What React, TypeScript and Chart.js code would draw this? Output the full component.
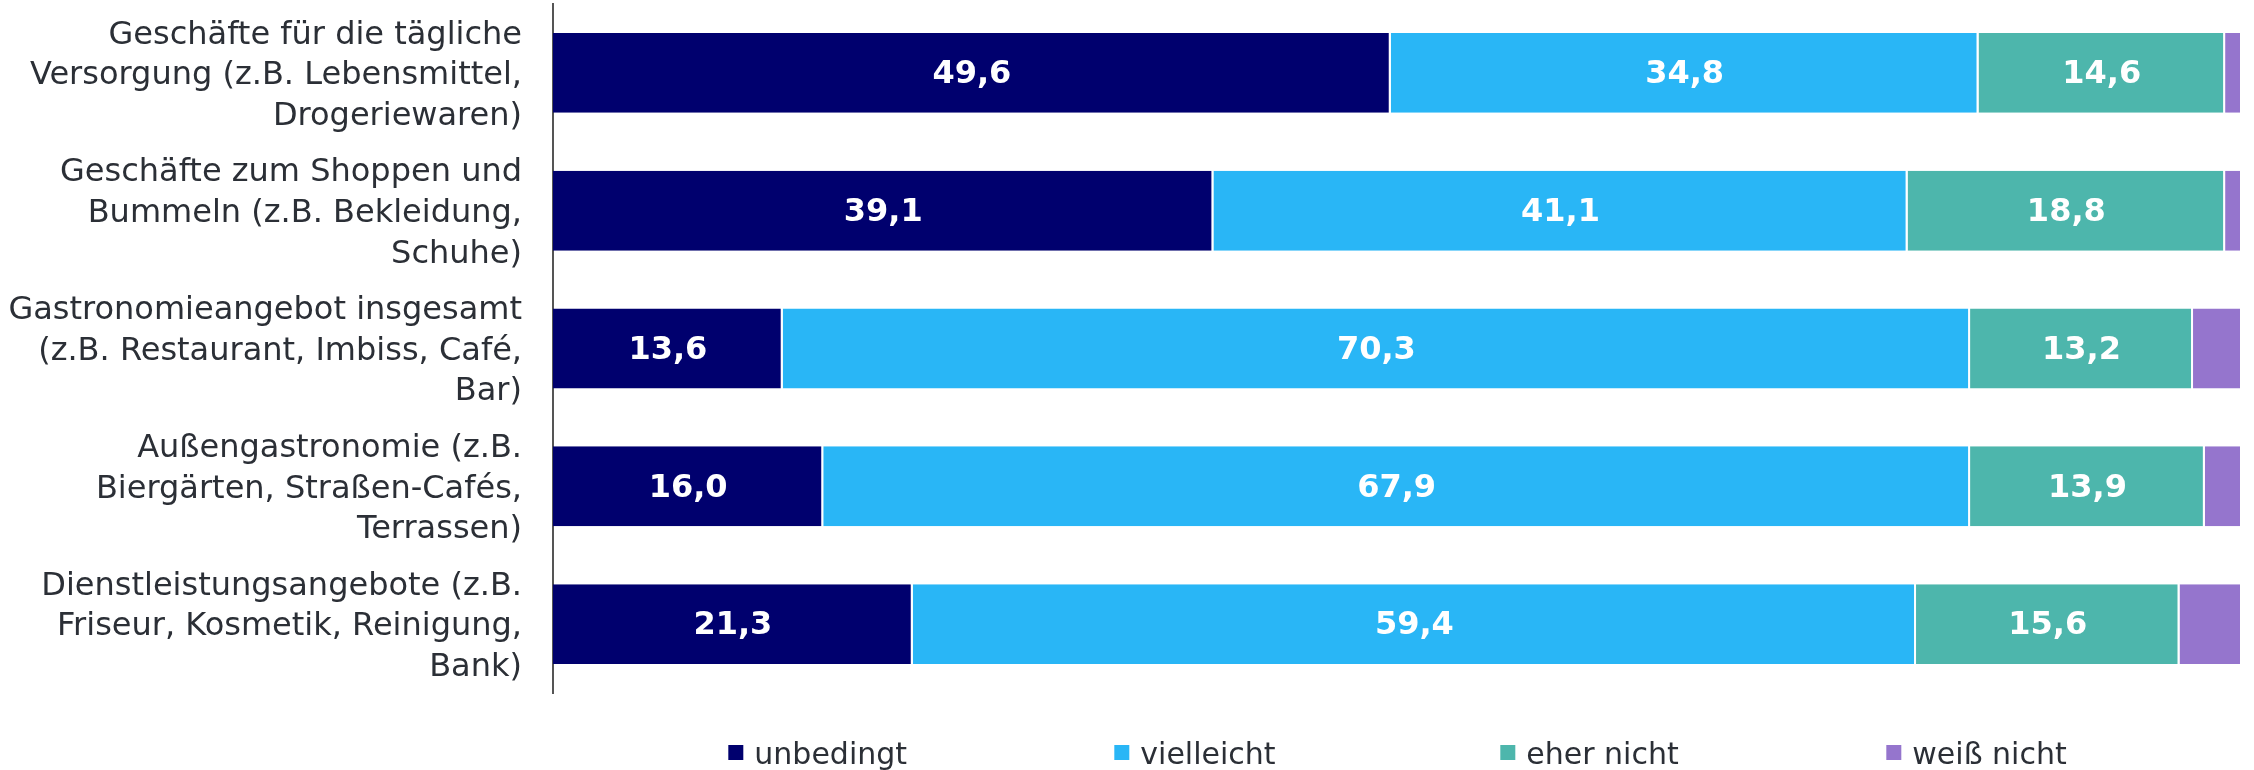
import React, { useEffect, useRef } from "react";
import { Chart, registerables } from "chart.js";

Chart.register(...registerables);

const categories: string[][] = [
  ["Geschäfte für die tägliche", "Versorgung (z.B. Lebensmittel,", "Drogeriewaren)"],
  ["Geschäfte zum Shoppen und", "Bummeln (z.B. Bekleidung,", "Schuhe)"],
  ["Gastronomieangebot insgesamt", "(z.B. Restaurant, Imbiss, Café,", "Bar)"],
  ["Außengastronomie (z.B.", "Biergärten, Straßen-Cafés,", "Terrassen)"],
  ["Dienstleistungsangebote (z.B.", "Friseur, Kosmetik, Reinigung,", "Bank)"],
];

const seriesNames = ["unbedingt", "vielleicht", "eher nicht", "weiß nicht"];
const unbedingt = [49.6, 39.1, 13.6, 16.0, 21.3];
const vielleicht = [34.8, 41.1, 70.3, 67.9, 59.4];
const eherNicht = [14.6, 18.8, 13.2, 13.9, 15.6];
const weissNicht = [1.0, 1.0, 2.9, 2.2, 3.7];
const seriesColors = ["#00006E", "#29B6F6", "#4DB6AC", "#9575CD"];
const labelledSeries = [true, true, true, false];

const FONT = "'DejaVu Sans', Verdana, sans-serif";
const TEXT_COLOR = "#2b2f36";

const valueLabelPlugin = {
  id: "valueLabels",
  afterDatasetsDraw(chart: any) {
    const ctx = chart.ctx;
    ctx.save();
    ctx.font = `bold 32px ${FONT}`;
    ctx.fillStyle = "#ffffff";
    ctx.textAlign = "center";
    ctx.textBaseline = "middle";
    chart.data.datasets.forEach((ds: any, di: number) => {
      if (!labelledSeries[di]) return;
      const meta = chart.getDatasetMeta(di);
      meta.data.forEach((el: any, i: number) => {
        const v = ds.data[i];
        const cx = (el.x + el.base) / 2;
        ctx.fillText(v.toFixed(1).replace(".", ","), cx, el.y + 2);
      });
    });
    ctx.restore();
  },
};

const legendPlugin = {
  id: "customLegend",
  afterDraw(chart: any) {
    const ctx = chart.ctx;
    const area = chart.chartArea;
    const colWidth = 386;
    const box = 15;
    const gap = 11;
    ctx.save();
    ctx.font = `30px ${FONT}`;
    const items = chart.data.datasets.map((ds: any) => ({
      text: ds.label,
      color: ds.backgroundColor,
      w: box + gap + ctx.measureText(ds.label).width,
    }));
    const total = colWidth * (items.length - 1) + items[items.length - 1].w;
    let x = (area.left + area.right) / 2 - total / 2;
    const baseline = 764;
    items.forEach((it: any) => {
      ctx.fillStyle = it.color;
      ctx.fillRect(x, 745, box, box);
      ctx.fillStyle = TEXT_COLOR;
      ctx.textAlign = "left";
      ctx.textBaseline = "alphabetic";
      ctx.fillText(it.text, x + box + gap, baseline);
      x += colWidth;
    });
    ctx.restore();
  },
};

export default function App() {
  const canvasRef = useRef<HTMLCanvasElement | null>(null);

  useEffect(() => {
    if (!canvasRef.current) return;
    const values = [unbedingt, vielleicht, eherNicht, weissNicht];
    const chart = new Chart(canvasRef.current, {
      type: "bar",
      data: {
        labels: categories,
        datasets: values.map((data, i) => ({
          label: seriesNames[i],
          data,
          backgroundColor: seriesColors[i],
          borderColor: "#ffffff",
          borderWidth: { top: 0, bottom: 0, left: 0, right: 2 },
          borderSkipped: false,
          categoryPercentage: 1,
          barPercentage: 0.58,
        })),
      },
      options: {
        indexAxis: "y",
        animation: false,
        responsive: true,
        maintainAspectRatio: false,
        layout: { padding: { top: 4, right: 12, bottom: 77, left: 0 } },
        plugins: {
          legend: { display: false },
          tooltip: { enabled: false },
        },
        scales: {
          x: {
            stacked: true,
            min: 0,
            max: 100,
            display: false,
          },
          y: {
            stacked: true,
            grid: { display: true, color: "transparent", drawTicks: false },
            border: { display: true, color: "#555555", width: 2 },
            ticks: {
              autoSkip: false,
              padding: 31,
              labelOffset: 3,
              color: TEXT_COLOR,
              font: { family: FONT, size: 32, lineHeight: 1.27 },
            },
            afterFit(scale: any) {
              scale.width = 553;
              scale.paddingTop = 0;
              scale.paddingBottom = 0;
            },
          },
        },
      },
      plugins: [valueLabelPlugin, legendPlugin],
    } as any);
    return () => chart.destroy();
  }, []);

  return (
    <div style={{ position: "fixed", left: 0, top: 0, width: "2254px", height: "770px", background: "#ffffff" }}>
      <canvas ref={canvasRef} />
    </div>
  );
}
